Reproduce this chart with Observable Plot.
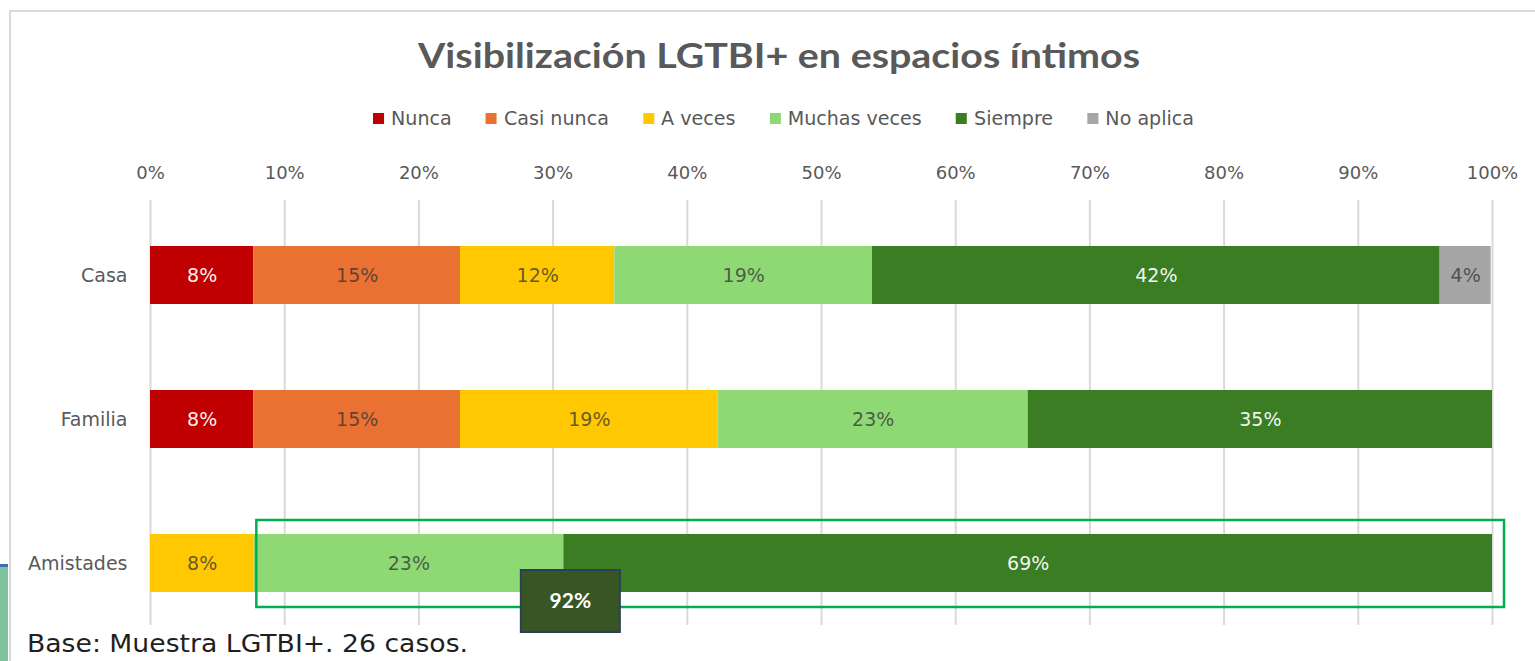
<!DOCTYPE html>
<html><head><meta charset="utf-8">
<script src="https://cdn.jsdelivr.net/npm/d3@7"></script>
<script src="https://cdn.jsdelivr.net/npm/@observablehq/plot@0.6"></script>
<style>
html,body{margin:0;padding:0;background:#fff;}
body{width:1535px;height:661px;overflow:hidden;position:relative;font-family:"DejaVu Sans",sans-serif;}
#frame{position:absolute;left:9px;top:10px;width:1560px;height:720px;border:2px solid #dadada;box-sizing:border-box;}
#strip{position:absolute;left:0;top:564px;width:8px;height:100px;background:#7fc39c;border-top:3px solid #3d6fb3;box-sizing:border-box;}
.fit{position:absolute;white-space:nowrap;transform-origin:0 50%;}
#title{top:34px;font-family:"Lato","DejaVu Sans",sans-serif;font-weight:bold;font-size:34px;line-height:42px;color:#595959;}
#legend{top:106px;display:flex;align-items:center;gap:34px;font-size:19px;line-height:24px;color:#595959;}
#legend .item{display:flex;align-items:center;}
#legend .sw{width:11px;height:11px;margin-right:7px;}
#caption{top:628px;font-size:24px;line-height:32px;color:#1f1f1f;}
#chart{position:absolute;left:0;top:140px;}
</style>
</head><body>
<div id="frame"></div>
<div id="strip"></div>
<div id="title" class="fit"></div>
<div id="legend" class="fit"></div>
<div id="chart"></div>
<div id="caption" class="fit"></div>
<script>
const titleText = "Visibilización LGTBI+ en espacios íntimos";
const captionText = "Base: Muestra LGTBI+. 26 casos.";
const categories = ["Casa", "Familia", "Amistades"];
const responses = ["Nunca", "Casi nunca", "A veces", "Muchas veces", "Siempre", "No aplica"];
const colors = ["#C00000", "#E97132", "#FFC800", "#8ED973", "#3B7D23", "#A6A6A6"];
const casa = [7.7, 15.4, 11.5, 19.2, 42.3, 3.8];
const familia = [7.7, 15.4, 19.2, 23.1, 34.6, 0];
const amistades = [0, 0, 7.7, 23.1, 69.2, 0];
const xTicks = [0, 10, 20, 30, 40, 50, 60, 70, 80, 90, 100];
const highlightLabel = "92%";
const whiteLabels = ["Nunca", "Siempre"];

const series = [casa, familia, amistades];
const rows = [];
categories.forEach((c, i) => responses.forEach((r, j) => {
  if (series[i][j] > 0) rows.push({cat: c, resp: r, value: series[i][j]});
}));

// highlight extent: Muchas veces + Siempre for Amistades
const hlStart = amistades[0] + amistades[1] + amistades[2];
const hlBoundary = hlStart + amistades[3];
const hlEnd = d3.sum(amistades);

document.getElementById("title").textContent = titleText;
document.getElementById("caption").textContent = captionText;
const legend = document.getElementById("legend");
responses.forEach((r, j) => {
  const it = document.createElement("div"); it.className = "item";
  const sw = document.createElement("div"); sw.className = "sw"; sw.style.background = colors[j];
  const tx = document.createElement("span"); tx.textContent = r;
  it.appendChild(sw); it.appendChild(tx); legend.appendChild(it);
});

const chart = Plot.plot({
  width: 1535, height: 521,
  marginLeft: 150, marginRight: 43, marginTop: 60, marginBottom: 36,
  x: {domain: [0, 100], axis: null},
  y: {domain: categories, range: [61.75, 495.25], paddingInner: 0.6, paddingOuter: 0.3, axis: null},
  color: {domain: responses, range: colors},
  style: {fontFamily: "DejaVu Sans, sans-serif", background: "transparent", overflow: "visible"},
  marks: [
    Plot.ruleX(xTicks, {stroke: "#d9d9d9", strokeWidth: 2}),
    Plot.axisX({anchor: "top", ticks: xTicks, tickFormat: d => d + "%", tickSize: 0, tickPadding: 22, fontSize: 18, color: "#595959", label: null}),
    Plot.axisY({tickSize: 0, tickPadding: 23, fontSize: 19, color: "#595959", label: null}),
    Plot.barX(rows, Plot.stackX({x: "value", y: "cat", fill: "resp", order: responses})),
    Plot.text(rows, Plot.stackX({
      x: "value", y: "cat", z: "resp", order: responses,
      text: d => Math.round(d.value) + "%",
      fill: d => whiteLabels.includes(d.resp) ? "#ffffff" : "#333333",
      fillOpacity: d => whiteLabels.includes(d.resp) ? 0.95 : 0.75,
      fontSize: 19
    })),
    Plot.barX([{cat: "Amistades", x1: hlStart, x2: hlEnd}], {
      x1: "x1", x2: "x2", y: "cat", fill: "none", stroke: "#00B050", strokeWidth: 2.5,
      insetLeft: 3, insetRight: -12, insetTop: -14, insetBottom: -15
    }),
    (index, scales, values, dims, context) => {
      const g = d3.create("svg:g");
      const cx = scales.x(hlBoundary) + 7;
      const top = scales.y("Amistades") + 36;
      g.append("rect").attr("x", cx - 49.5).attr("y", top).attr("width", 99).attr("height", 62)
        .attr("fill", "#375623").attr("stroke", "#2B3F5C").attr("stroke-width", 2);
      g.append("text").attr("x", cx).attr("y", top + 31).attr("dy", "0.35em")
        .attr("text-anchor", "middle").attr("fill", "#fff").attr("font-weight", "bold")
        .attr("font-size", 21).attr("font-family", "Lato, DejaVu Sans, sans-serif").text(highlightLabel);
      return g.node();
    }
  ]
});
document.getElementById("chart").appendChild(chart);

function place(id, left, width) {
  const el = document.getElementById(id);
  el.style.left = left + "px";
  const w = el.getBoundingClientRect().width;
  el.style.transform = `scaleX(${width / w})`;
}
place("title", 418, 722);
place("legend", 373, 821);
place("caption", 27, 441);
</script>
</body></html>
